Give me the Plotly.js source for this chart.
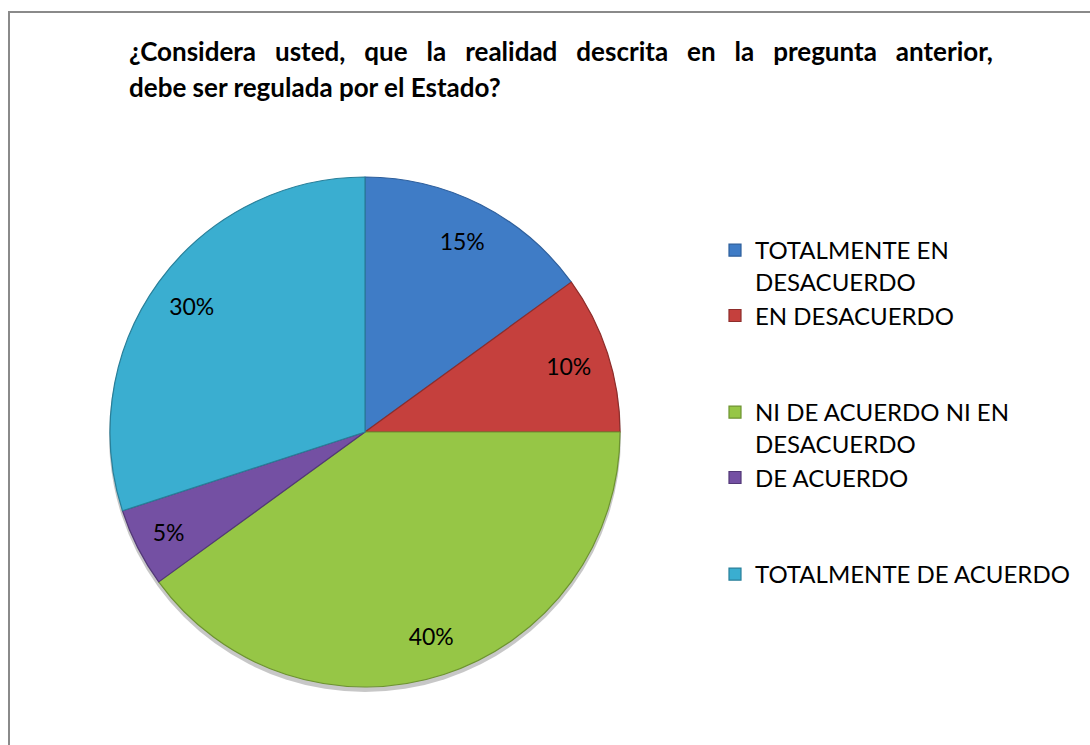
<!DOCTYPE html>
<html>
<head>
<meta charset="utf-8">
<script src="https://cdn.plot.ly/plotly-3.0.1.min.js"></script>
<style>
html,body{margin:0;padding:0;background:#fff;}
#wrap{position:relative;width:1090px;height:745px;overflow:hidden;}
#chart{position:absolute;left:0;top:0;width:1090px;height:745px;}
#frame{position:absolute;left:8px;top:11px;width:1090px;height:760px;border:2px solid #8a8a8a;box-sizing:border-box;pointer-events:none;}
</style>
</head>
<body>
<div id="wrap"><div id="chart"></div><div id="frame"></div></div>
<script>
const titleLines = ["¿Considera usted, que la realidad descrita en la pregunta anterior,", "debe ser regulada por el Estado?"];
const categories = ["TOTALMENTE EN DESACUERDO", "EN DESACUERDO", "NI DE ACUERDO NI EN DESACUERDO", "DE ACUERDO", "TOTALMENTE DE ACUERDO"];
const values = [15, 10, 40, 5, 30];
const colors = ["#3f7cc6", "#c5403d", "#96c646", "#7450a3", "#3aaed0"];
const edgeColors = ["#2e5f9c", "#8e2d2b", "#6d9330", "#523877", "#287f99"];

// legend display labels (line breaks / padding for spacing only)
const legendLabels = [
  "TOTALMENTE EN<br>DESACUERDO",
  "EN DESACUERDO<br> <br> ",
  "NI DE ACUERDO NI EN<br>DESACUERDO",
  "DE ACUERDO<br> <br> ",
  "TOTALMENTE DE ACUERDO"
];

const W = 1090, H = 745;
const cx = 365, cy = 432, R = 255;
const dom = {x: [(cx - R) / W, (cx + R) / W], y: [(H - cy - R) / H, (H - cy + R) / H]};
const shadowDom = {x: [(cx - R - 1) / W, (cx + R + 1) / W], y: [(H - cy - R - 5) / H, (H - cy + R - 3) / H]};
const font = "Lato, 'Liberation Sans', sans-serif";

const pieShadow = {
  type: "pie", values: values, labels: legendLabels, sort: false, direction: "clockwise", rotation: 0,
  marker: {colors: values.map(() => "rgba(0,0,0,0.22)"), line: {width: 0}},
  textinfo: "none", hoverinfo: "skip", domain: shadowDom, showlegend: false
};
const pieMain = {
  type: "pie", values: values, labels: legendLabels, sort: false, direction: "clockwise", rotation: 0,
  marker: {colors: colors, line: {color: edgeColors, width: 1.2}},
  textinfo: "none", hoverinfo: "label+percent", domain: dom, showlegend: true
};
const pieLabels = {
  type: "pie", values: values, labels: legendLabels, sort: false, direction: "clockwise", rotation: 0,
  hole: 0.68, marker: {colors: values.map(() => "rgba(0,0,0,0)"), line: {width: 0}},
  textinfo: "percent", textposition: "inside", insidetextorientation: "horizontal",
  insidetextfont: {family: font, size: 23, color: "#000"},
  hoverinfo: "skip", domain: dom, showlegend: false
};

// spread words of the first (justified) title line
const titleShown = [titleLines[0].split(" ").join(" \u00a0\u00a0"), titleLines[1]];

const layout = {
  width: W, height: H, margin: {l: 0, r: 0, t: 0, b: 0},
  paper_bgcolor: "rgba(0,0,0,0)", plot_bgcolor: "rgba(0,0,0,0)",
  font: {family: font, color: "#000"},
  showlegend: true,
  legend: {x: 715 / W, y: 1 - 228 / H, xanchor: "left", yanchor: "top", valign: "top",
           font: {family: font, size: 24, color: "#000"}, bgcolor: "rgba(0,0,0,0)", traceorder: "normal"},
  annotations: titleShown.map((t, i) => ({
    text: "<b>" + t + "</b>", xref: "paper", yref: "paper", x: 127 / W, y: 1 - (51 + i * 36) / H,
    xanchor: "left", yanchor: "middle", showarrow: false, font: {family: font, size: 26, color: "#000"}
  }))
};

Plotly.newPlot("chart", [pieShadow, pieMain, pieLabels], layout, {displayModeBar: false, staticPlot: true});
</script>
</body>
</html>
